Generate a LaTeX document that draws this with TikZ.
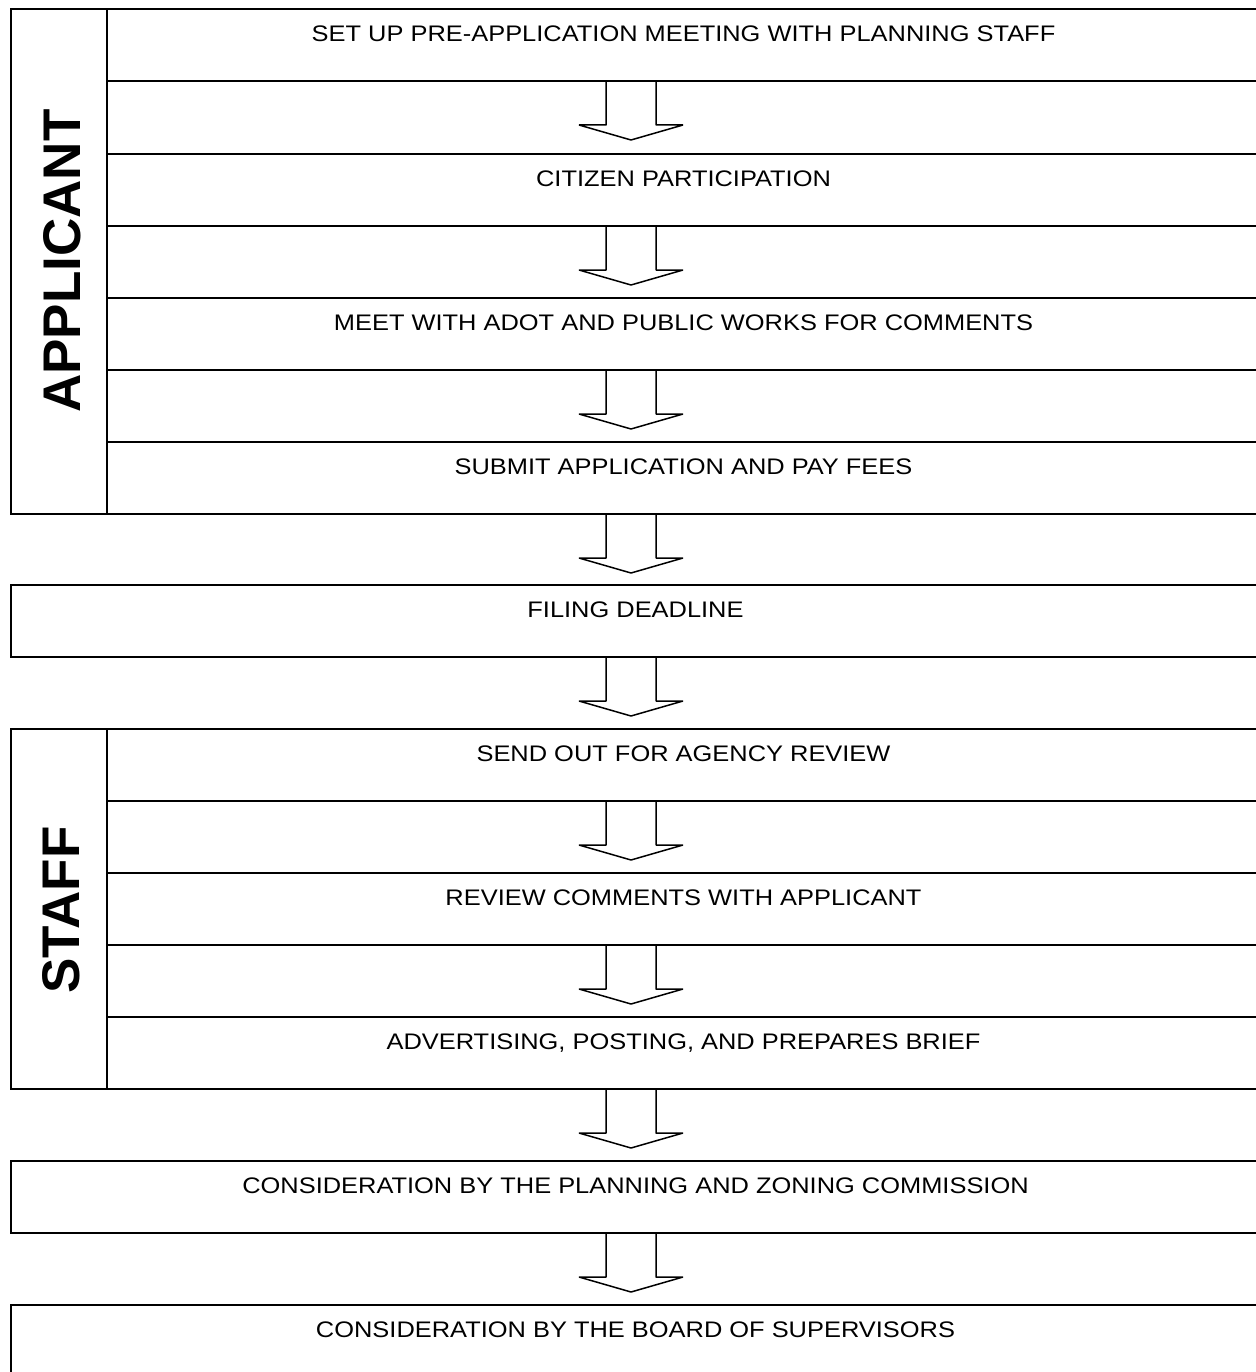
\documentclass[tikz,border=0pt]{standalone}
\usepackage{fontspec}
\setmainfont{Liberation Sans}
\newfontfamily\rowfont{Liberation Sans}[FakeStretch=1.13]
\tikzset{
  box/.style={draw=black, line width=2pt, rectangle, inner sep=0pt, anchor=north west,
    minimum height=72pt, font=\rowfont\fontsize{22.5}{22.5}\selectfont,
    text height=16.1pt, text depth=22.6pt},
  innerrow/.style={box, minimum width=1153pt},
  fullrow/.style={box, minimum width=1249pt},
  lanecol/.style={draw=black, line width=2pt, rectangle, inner sep=0pt, anchor=north west, minimum width=96pt},
  lanelabel/.style={rotate=90, inner sep=0pt, font=\bfseries\fontsize{53}{53}\selectfont},
  blockarrow/.style={draw=black, line width=1.5pt, line join=bevel}
}
\newcommand{\flowarrow}[1]{%
  \draw[blockarrow] ([xshift=-25pt]ax |- #1.south) -- ++(0,43) -- ++(-27,0) -- ++(52,15) -- ++(52,-15) -- ++(-27,0) -- ++(0,-43);}
\begin{document}
\begin{tikzpicture}[x=1pt, y=-1pt]
\useasboundingbox (0,0) rectangle (1255,1372);
\coordinate (ax) at (631,0);
% applicant lane
\node[fullrow, minimum height=505pt] (applane) at (10,8) {};
\node[lanecol, minimum height=505pt] (appcol) at (10,8) {};
\node[lanelabel] (applabel) at (62.5,261) {APPLICANT};
\node[innerrow] (r1) at (106,8) {SET UP PRE-APPLICATION MEETING WITH PLANNING STAFF};
\node[innerrow] (r2) at (106,153) {CITIZEN PARTICIPATION};
\node[innerrow] (r3) at (106,297) {MEET WITH ADOT AND PUBLIC WORKS FOR COMMENTS};
\node[innerrow] (r4) at (106,441) {SUBMIT APPLICATION AND PAY FEES};
% filing
\node[fullrow] (filing) at (10,584) {FILING DEADLINE};
% staff lane
\node[fullrow, minimum height=360pt] (stafflane) at (10,728) {};
\node[lanecol, minimum height=360pt] (staffcol) at (10,728) {};
\node[lanelabel] (stafflabel) at (61.5,910) {STAFF};
\node[innerrow] (s1) at (106,728) {SEND OUT FOR AGENCY REVIEW};
\node[innerrow] (s2) at (106,872) {REVIEW COMMENTS WITH APPLICANT};
\node[innerrow] (s3) at (106,1016) {ADVERTISING, POSTING, AND PREPARES BRIEF};
% final
\node[fullrow] (pz) at (10,1160) {CONSIDERATION BY THE PLANNING AND ZONING COMMISSION};
\node[fullrow] (board) at (10,1304) {CONSIDERATION BY THE BOARD OF SUPERVISORS};
% arrows
\flowarrow{r1}
\flowarrow{r2}
\flowarrow{r3}
\flowarrow{applane}
\flowarrow{filing}
\flowarrow{s1}
\flowarrow{s2}
\flowarrow{stafflane}
\flowarrow{pz}
\end{tikzpicture}
\end{document}
